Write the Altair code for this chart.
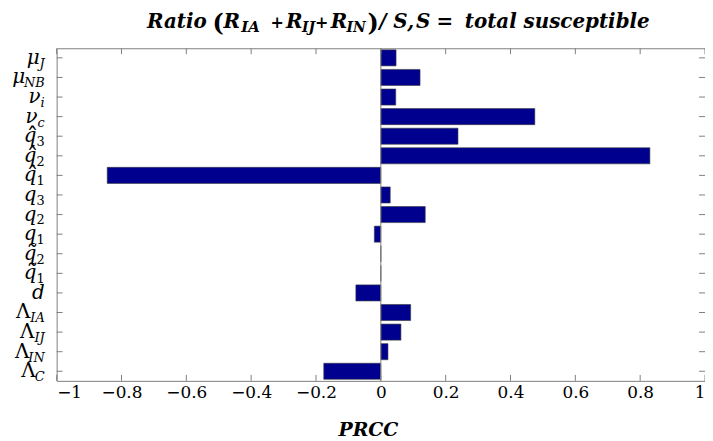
import altair as alt
import pandas as pd

# ---- data ----
base_sym = ["μ", "μ", "ν", "ν", "q", "q", "q", "q", "q", "q",
            "q", "q", "d", "Λ", "Λ", "Λ", "Λ"]
accent = ["", "", "", "", "ˆ", "ˆ", "ˆ", "", "", "", "˜", "˜", "", "", "", "", ""]
sub_sym = ["J", "NB", "i", "c", "3", "2", "1", "3", "2", "1",
           "2", "1", "", "IA", "IJ", "IN", "C"]
prcc = [0.047, 0.121, 0.046, 0.475, 0.238, 0.830, -0.844, 0.029, 0.137, -0.020,
        0.0, 0.0, -0.077, 0.092, 0.062, 0.022, -0.176]
x_ticks = [-1, -0.8, -0.6, -0.4, -0.2, 0, 0.2, 0.4, 0.6, 0.8, 1]

keys = [a + b + s for a, b, s in zip(accent, base_sym, sub_sym)]
df = pd.DataFrame({"key": keys, "base": base_sym, "acc": accent,
                   "sub": sub_sym, "prcc": prcc})

W, H = 653, 335
SERIF = "DejaVu Serif"
GRAY = "#808080"

y = alt.Y("key:N", sort=keys,
          scale=alt.Scale(paddingInner=0.18, paddingOuter=0.08), axis=None)
xscale = alt.Scale(domain=[-1, 1], nice=False)

bars = alt.Chart(df).mark_bar(color="#00008f", stroke="#3a3a3a", strokeWidth=0.6).encode(
    x=alt.X("prcc:Q", scale=xscale,
            axis=alt.Axis(values=x_ticks, format=".1~f", grid=False, ticks=False,
                          domain=False, labelFont=SERIF, labelFontSize=17,
                          labelColor="black", labelPadding=4, title=None)),
    y=y,
)

zero = alt.Chart(pd.DataFrame({"z": [0]})).mark_rule(color=GRAY, strokeWidth=1).encode(
    x=alt.X("z:Q", scale=xscale))

tickdf = pd.DataFrame({"t": x_ticks})
bot_ticks = alt.Chart(tickdf).mark_rule(color=GRAY).encode(
    x=alt.X("t:Q", scale=xscale), y=alt.value(H), y2=alt.value(H - 6))
top_ticks = alt.Chart(tickdf).mark_rule(color=GRAY).encode(
    x=alt.X("t:Q", scale=xscale), y=alt.value(0), y2=alt.value(6))
left_ticks = alt.Chart(df).mark_rule(color=GRAY).encode(
    y=y, x=alt.value(0), x2=alt.value(6))
right_ticks = alt.Chart(df).mark_rule(color=GRAY).encode(
    y=y, x=alt.value(W - 6), x2=alt.value(W))

layers = [bars, zero, bot_ticks, top_ticks, left_ticks, right_ticks]

# label layout helpers (approximate italic glyph advances, in em)
CW = {"I": 0.40, "A": 0.72, "J": 0.40, "N": 0.80, "B": 0.72, "C": 0.70,
      "i": 0.32, "c": 0.56, "1": 0.64, "2": 0.64, "3": 0.64}
SUB_FS = 13
BASE_FS = 20
LBL_X = -12

for k, b, a, s in zip(keys, base_sym, accent, sub_sym):
    sw = sum(CW.get(ch, 0.65) for ch in s) * SUB_FS
    bx = LBL_X - sw
    flt = f"datum.key == '{k}'"
    layers.append(
        alt.Chart(df).transform_filter(flt).mark_text(
            align="right", baseline="middle", font=SERIF, fontSize=BASE_FS,
            fontStyle="normal" if b == "Λ" else "italic", color="black"
        ).encode(y=y, x=alt.value(bx), text="base:N")
    )
    if s:
        layers.append(
            alt.Chart(df).transform_filter(flt).mark_text(
                align="right", baseline="middle", dy=6, font=SERIF, fontSize=SUB_FS,
                fontStyle="normal" if s.isdigit() else "italic", color="black"
            ).encode(y=y, x=alt.value(LBL_X), text="sub:N")
        )
    if a:
        layers.append(
            alt.Chart(df).transform_filter(flt).mark_text(
                align="center", baseline="middle", dy=2, font=SERIF, fontSize=24,
                color="black"
            ).encode(y=y, x=alt.value(bx - 4), text="acc:N")
        )


def seg(text, x, yv, size, italic=True, align="left"):
    return alt.Chart(pd.DataFrame({"t": [text]})).mark_text(
        align=align, baseline="alphabetic", font=SERIF, fontSize=size,
        fontWeight="bold", fontStyle="italic" if italic else "normal", color="black"
    ).encode(x=alt.value(x), y=alt.value(yv), text="t:N")


MY, SY = -20, -16
layers += [
    seg("Ratio", 91, MY, 20),
    seg("(", 157, MY + 3, 24, False),
    seg("R", 168, MY, 20), seg("IA", 186, SY, 15),
    seg("+", 222, MY, 16, False, "center"),
    seg("R", 231, MY, 20), seg("IJ", 247, SY, 14),
    seg("+", 267, MY, 16, False, "center"),
    seg("R", 276, MY, 20), seg("IN", 292, SY, 14),
    seg(")", 313, MY + 3, 24, False),
    seg("/", 325, MY, 20),
    seg("S", 339, MY, 20),
    seg(",", 353, MY, 20),
    seg("S", 362, MY, 20),
    seg("=", 391, MY, 20, False, "center"),
    seg("total susceptible", 411, MY, 20),
]

xtitle = alt.Chart(pd.DataFrame({"t": ["PRCC"]})).mark_text(
    align="center", baseline="alphabetic", font=SERIF, fontSize=19,
    fontWeight="bold", fontStyle="italic", color="black"
).encode(x=alt.value(314), y=alt.value(391), text="t:N")
layers.append(xtitle)

chart = alt.layer(*layers).properties(
    width=W, height=H,
    autosize=alt.AutoSizeParams(type="none"),
    padding={"left": 49, "top": 39, "right": 0, "bottom": 58},
).configure_view(stroke=GRAY, strokeWidth=1)

chart.save("out.html", embed_options={"renderer": "svg", "actions": False})
